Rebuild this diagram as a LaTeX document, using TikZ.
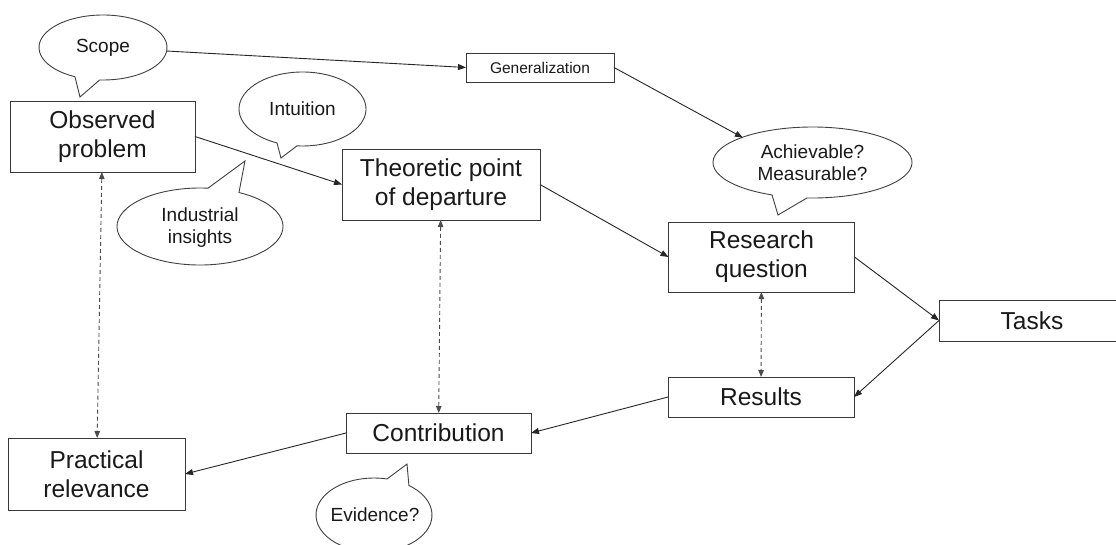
\documentclass[tikz,border=0pt]{standalone}
\usepackage{fontspec}
\setmainfont{Liberation Sans}
\usetikzlibrary{arrows.meta,shapes.geometric}

% outline of a speech bubble: ellipse (cx,cy,rx,ry) opened between two
% parameter angles, closed through the tip of its tail
\newcommand\speechoutline[8]{%
  \draw[bubbleline] (#1,#2) ++(#5:#3 and #4)
    arc[start angle=#5, end angle=#6, x radius=#3, y radius=#4]
    -- (#7,#8) -- cycle;}

\tikzset{
  box/.style={draw=black!78, line width=1pt, inner sep=0pt, outer sep=0pt,
    align=center, font=\fontsize{24.5}{29}\selectfont, text=black!90},
  smallbox/.style={box, font=\fontsize{15.5}{18}\selectfont},
  bubble/.style={ellipse, draw=none, inner sep=0pt, outer sep=0pt,
    align=center, font=\fontsize{19}{22}\selectfont, text=black!90},
  bubbleline/.style={draw=black!75, line width=0.9pt, fill=white},
  arr/.style={draw=black!85, line width=0.9pt,
    -{Triangle[length=8pt,width=6pt]}},
  link/.style={draw=black!70, line width=0.9pt, dash pattern=on 4pt off 3pt,
    {Triangle[length=7pt,width=5.5pt]}-{Triangle[length=7pt,width=5.5pt]}},
}

\begin{document}
\begin{tikzpicture}[x=1pt,y=-1pt]
\clip (0,0) rectangle (1116,544);
\fill[white] (0,0) rectangle (1116,544);

% speech bubbles
\speechoutline{103}{47.5}{64}{32.5}{116}{453}{80}{97}
\speechoutline{302.5}{109}{63.5}{37}{113.7}{455}{281}{158}
\speechoutline{200}{226.5}{83}{38.5}{298}{635.5}{245}{161}
\speechoutline{812.5}{162.5}{99.5}{35.5}{114}{453.2}{778}{215}
\speechoutline{374}{515}{58}{37}{307}{643}{407}{464}

\node[bubble, minimum width=128pt, minimum height=65pt] (scope) at (103,47.5) {Scope};
\node[bubble, minimum width=127pt, minimum height=74pt] (intu) at (302.5,109) {Intuition};
\node[bubble, minimum width=166pt, minimum height=77pt] (ind) at (200,228) {Industrial\\insights};
\node[bubble, minimum width=199pt, minimum height=71pt] (ach) at (812.5,163) {Achievable?\\Measurable?};
\node[bubble, minimum width=116pt, minimum height=74pt] (evid) at (375,515) {Evidence?};

% boxes
\node[box, minimum width=185pt, minimum height=71pt] (obs) at (102.5,136.5) {Observed\\problem};
\node[box, minimum width=198pt, minimum height=71pt] (theo) at (441,184.5) {Theoretic point\\of departure};
\node[box, minimum width=186pt, minimum height=70pt] (rq) at (761.5,257) {Research\\question};
\node[box, minimum width=186pt, minimum height=41pt] (tasks) at (1032,320.5) {Tasks};
\node[box, minimum width=186pt, minimum height=40pt] (res) at (761,397) {Results};
\node[box, minimum width=185pt, minimum height=40pt] (contr) at (438.5,433) {Contribution};
\node[box, minimum width=177pt, minimum height=72pt] (prac) at (96.5,474) {Practical\\relevance};
\node[smallbox, minimum width=148pt, minimum height=29pt] (gen) at (540,67.5) {Generalization};

% flow
\draw[arr] (scope) -- (gen.west);
\draw[arr] (gen.east) -- (ach.160);
\draw[arr] (obs.east) -- (theo.west);
\draw[arr] (theo.east) -- (rq.west);
\draw[arr] (rq.east) -- (tasks.west);
\draw[arr] (tasks.west) -- (res.east);
\draw[arr] (res.west) -- (contr.east);
\draw[arr] (contr.west) -- (prac.east);

% correspondences
\draw[link] (obs) -- (prac);
\draw[link] (theo) -- (contr);
\draw[link] (rq) -- (res);
\end{tikzpicture}
\end{document}
